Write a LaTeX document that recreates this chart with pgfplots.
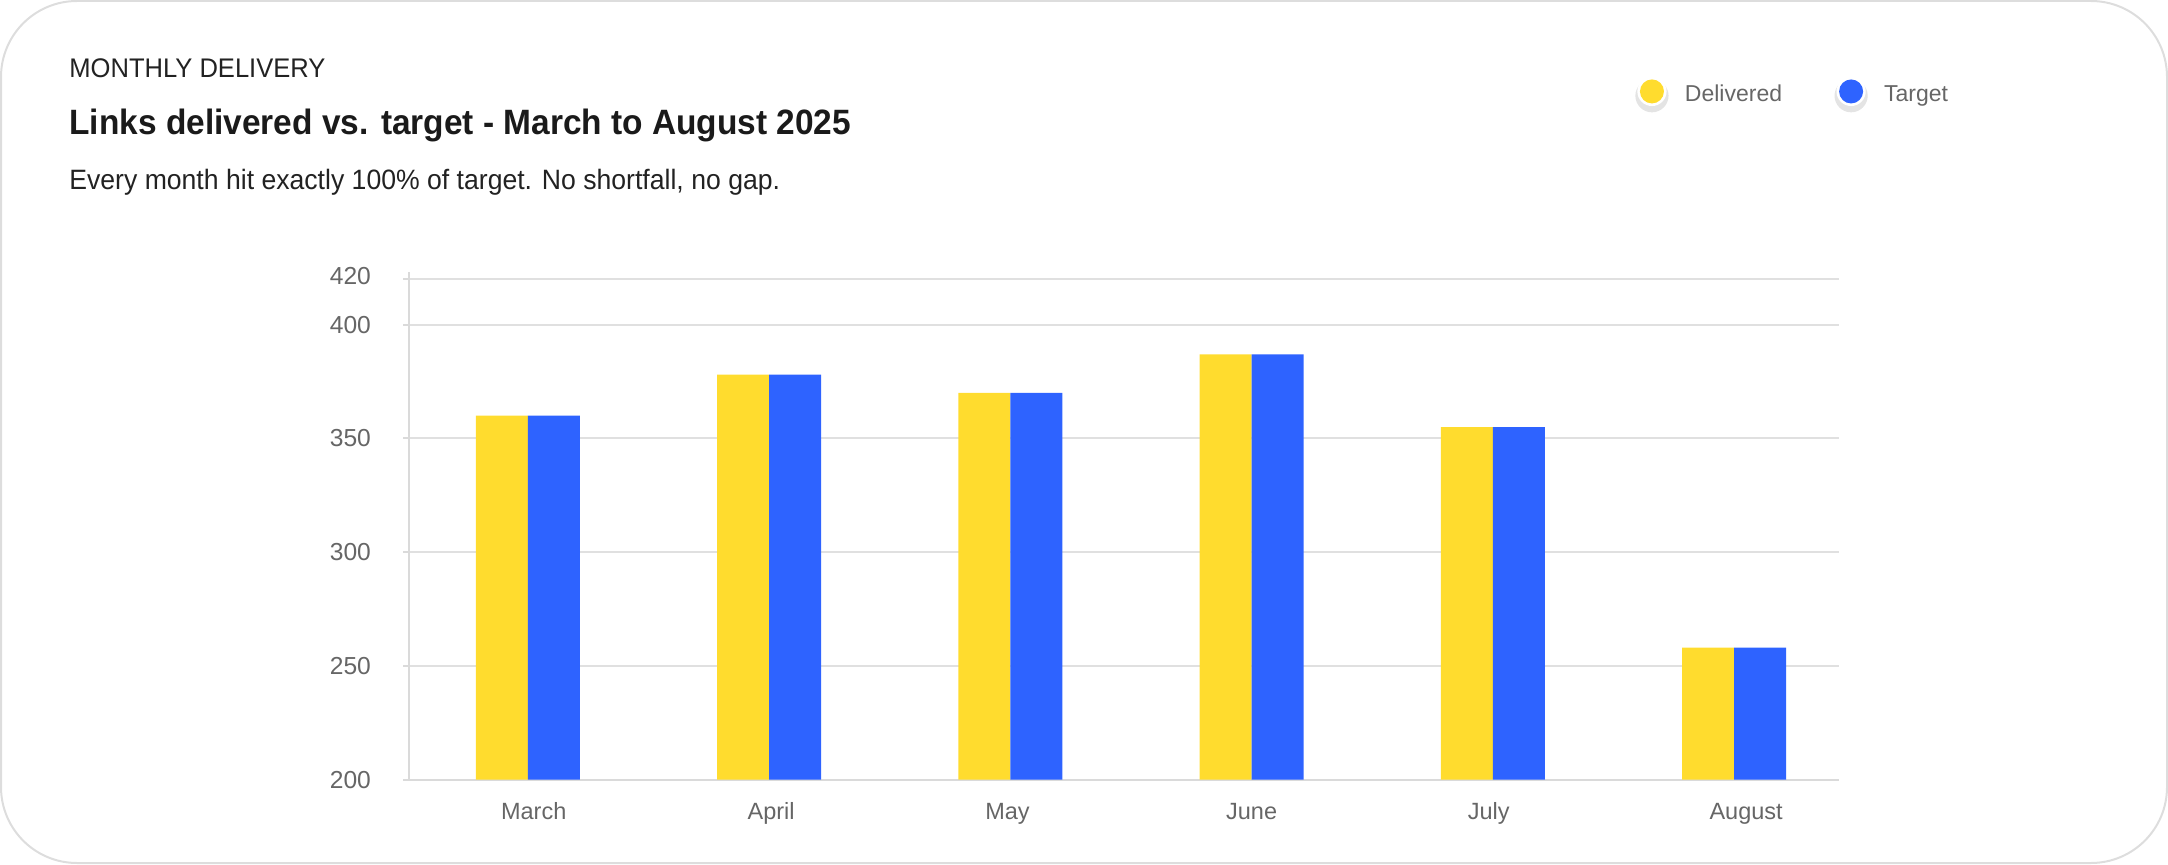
\documentclass[border=0pt]{standalone}
\usepackage{fontspec}
\setmainfont{Liberation Sans}
\newfontfamily\headfont[FakeStretch=0.95]{Liberation Sans}
\usepackage{pgfplots}
\pgfplotsset{compat=1.18}
\usepackage{pgfplotstable}
\definecolor{dyellow}{HTML}{FFDC2E}
\definecolor{tblue}{HTML}{2E63FF}
\definecolor{gridc}{HTML}{E0E0E0}
\definecolor{axc}{HTML}{DADADA}
\definecolor{tickc}{HTML}{666666}
\definecolor{titlec}{HTML}{1A1A1A}
\definecolor{subc}{HTML}{222222}
\definecolor{borderc}{HTML}{DDDDDD}
\definecolor{shadowc}{HTML}{E4E4E4}

\pgfplotstableread{
x delivered target
0 360 360
1 378 378
2 370 370
3 387 387
4 355 355
5 258 258
}\datatable

\begin{document}
\begin{tikzpicture}[x=1pt,y=1pt]
\useasboundingbox (0,0) rectangle (1084,432);
\draw[borderc, line width=1pt, rounded corners=38pt] (0.5,0.5) rectangle (1083.5,431.5);
\node[anchor=base west, inner sep=0pt, text=subc] at (34.5,393.35) {\headfont\fontsize{13.45}{15}\selectfont MONTHLY DELIVERY};
\node[anchor=base west, inner sep=0pt, text=titlec] at (34.5,364.5) {\headfont\bfseries\fontsize{17.6}{20}\selectfont Links delivered vs. target - March to August 2025};
\node[anchor=base west, inner sep=0pt, text=subc] at (34.5,337.35) {\headfont\fontsize{14}{16}\selectfont Every month hit exactly 100\% of target. No shortfall, no gap.};
\begin{axis}[
  at={(204.5pt,42.2pt)}, anchor=south west,
  scale only axis, width=715pt, height=250.2pt,
  xmin=-0.493, xmax=5.435, ymin=200, ymax=420,
  axis x line=bottom, axis y line=left,
  axis line style={axc, line width=1pt, -},
  y axis line style={shorten >=-3.5pt},
  ymajorgrids, grid style={gridc, line width=1pt},
  ytick={200,250,300,350,400,420},
  yticklabels={200,250,300,350,400,\raisebox{3.5pt}{420}},
  xtick={0.024,1.008,1.988,3,3.983,5.05},
  xticklabels={March,April,May,June,July,August},
  tick align=outside, major tick length=3pt,
  ytick style={axc, line width=1pt},
  xtick style={draw=none},
  /pgf/number format/assume math mode=true,
  yticklabel style={anchor=east, inner sep=0pt, xshift=-15.85pt, text=tickc, font=\fontsize{12.3}{14}\selectfont},
  xticklabel style={anchor=base, inner sep=0pt, yshift=-16.7pt, text=tickc, font=\fontsize{11.75}{14}\selectfont},
  legend columns=2,
  legend style={at={(0.8608,1.3741)}, anchor=west, draw=none, fill=none, inner sep=0pt, outer sep=0pt,
    nodes={inner sep=0pt, text=tickc, font=\fontsize{11.5}{13}\selectfont},
    /tikz/every odd column/.append style={column sep=10.5pt},
    /tikz/every even column/.append style={column sep=28.5pt}},
]
\addplot[ybar, bar width=0.2156, bar shift=-0.1078, fill=dyellow, draw=none,
  legend image code/.code={
    \fill[overlay, shadowc] (0pt,-0.5pt) circle (8.3pt);
    \fill[overlay, white] (0pt,1.65pt) circle (7.3pt);
    \fill[dyellow] (0pt,1.65pt) circle (6pt);}]
  table[x=x, y=delivered] {\datatable};
\addlegendentry{Delivered}
\addplot[ybar, bar width=0.2156, bar shift=0.1078, fill=tblue, draw=none,
  legend image code/.code={
    \fill[overlay, shadowc] (0pt,-0.5pt) circle (8.3pt);
    \fill[overlay, white] (0pt,1.65pt) circle (7.3pt);
    \fill[tblue] (0pt,1.65pt) circle (6pt);}]
  table[x=x, y=target] {\datatable};
\addlegendentry{Target}
\end{axis}
\end{tikzpicture}
\end{document}
